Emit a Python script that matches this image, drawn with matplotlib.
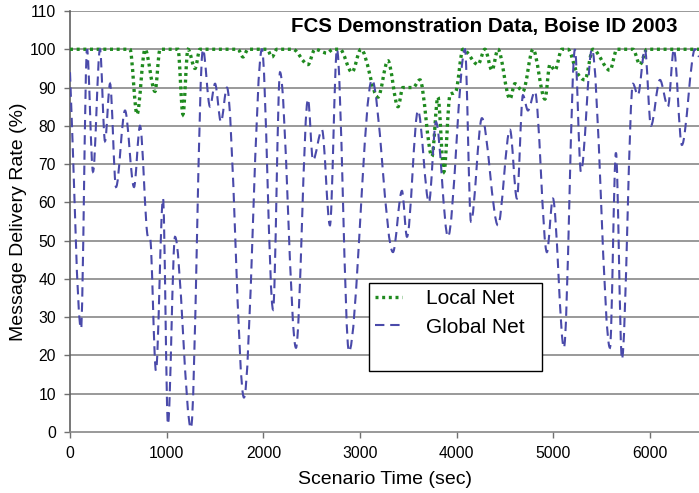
import matplotlib
matplotlib.use('Agg')
import matplotlib.pyplot as plt
from matplotlib.lines import Line2D
from matplotlib.path import Path
from matplotlib.patches import PathPatch

plt.rcParams['font.family'] = ['Liberation Sans', 'DejaVu Sans']

# scenario time (sec) and delivery rate (%)
global_t = [0, 114, 176, 238, 310, 362, 414, 476, 569, 662,
            724, 807, 827, 889, 962, 1013, 1086, 1251, 1375, 1448,
            1500, 1561, 1623, 1799, 1985, 2100, 2172, 2337, 2461, 2513,
            2606, 2688, 2761, 2885, 3123, 3340, 3433, 3485, 3599, 3712,
            3785, 3909, 4085, 4147, 4260, 4426, 4550, 4622, 4684, 4736,
            4808, 4932, 4994, 5108, 5222, 5284, 5398, 5584, 5646, 5708,
            5822, 5873, 5946, 6008, 6101, 6184, 6245, 6328, 6463, 6505]
global_rate = [94, 27, 100, 68, 100, 76, 91, 64, 84, 64,
               80, 51, 51, 16, 61, 2, 51, 1, 100, 85,
               91, 81, 90, 9, 100, 32, 94, 22, 87, 71,
               79, 54, 100, 21, 92, 47, 63, 51, 84, 60,
               81, 51, 100, 55, 82, 54, 79, 61, 88, 84,
               89, 47, 61, 22, 100, 68, 100, 22, 73, 19,
               91, 88, 100, 80, 92, 85, 100, 75, 100, 98]

local_t = [0, 620, 693, 776, 879, 931, 1117, 1168, 1220, 1293,
           1344, 1737, 1789, 1841, 2037, 2089, 2140, 2306, 2461, 2533,
           2657, 2719, 2792, 2916, 3009, 3185, 3288, 3392, 3443, 3547,
           3619, 3743, 3805, 3867, 3929, 3991, 4064, 4219, 4291, 4364,
           4426, 4550, 4601, 4684, 4788, 4912, 4963, 5015, 5087, 5149,
           5242, 5325, 5408, 5584, 5656, 5822, 5894, 5966, 6505]
local_rate = [100, 100, 83, 100, 89, 100, 100, 83, 100, 95,
              100, 100, 98, 100, 100, 98, 100, 100, 96, 100,
              99, 100, 100, 94, 100, 87.5, 97, 85, 90, 90,
              92, 72, 87.5, 68, 88, 89, 100, 96, 100, 94.5,
              100, 87, 91, 89, 100, 87, 96, 94.5, 100, 100,
              94, 92, 100, 94.5, 100, 100, 96, 100, 100]

x_ticks = [0, 1000, 2000, 3000, 4000, 5000, 6000]
y_ticks = list(range(0, 111, 10))

green = '#1f8a1f'
blue = '#4a4aaa'
green_style = (0, (0.9, 1.1))
blue_style = (0, (4.5, 2.8))


def smooth_path(xs, ys):
    # smoothed line drawn as bezier segments through the points (no overshoot)
    n = len(xs)
    d = [(ys[i + 1] - ys[i]) / (xs[i + 1] - xs[i]) for i in range(n - 1)]
    m = [d[0]] + [0.0] * (n - 2) + [d[-1]]
    for i in range(1, n - 1):
        if d[i - 1] * d[i] > 0:
            s = (ys[i + 1] - ys[i - 1]) / (xs[i + 1] - xs[i - 1])
            lim = 3 * min(abs(d[i - 1]), abs(d[i]))
            m[i] = max(-lim, min(lim, s))
    verts = [(xs[0], ys[0])]
    codes = [Path.MOVETO]
    for i in range(n - 1):
        h = (xs[i + 1] - xs[i]) / 3
        verts += [(xs[i] + h, ys[i] + m[i] * h),
                  (xs[i + 1] - h, ys[i + 1] - m[i + 1] * h),
                  (xs[i + 1], ys[i + 1])]
        codes += [Path.CURVE4] * 3
    return Path(verts, codes)


fig = plt.figure(figsize=(6.99, 4.93), dpi=100)
ax = fig.add_axes([70 / 699, 61 / 493, 629 / 699, 421 / 493])

for y in y_ticks[1:]:
    ax.axhline(y, color='#878787', lw=1.2, zorder=1)

ax.add_patch(PathPatch(smooth_path(local_t, local_rate), fill=False, edgecolor=green,
                       lw=2.4, linestyle=green_style, zorder=3))
ax.add_patch(PathPatch(smooth_path(global_t, global_rate), fill=False, edgecolor=blue,
                       lw=1.5, linestyle=blue_style, zorder=4))

ax.set_xlim(0, 6505)
ax.set_ylim(0, 110)
ax.set_xticks(x_ticks)
ax.set_yticks(y_ticks)
ax.tick_params(axis='both', direction='out', length=4, width=1,
               color='#707070', labelsize=11.3, pad=6)

for side in ['top', 'right']:
    ax.spines[side].set_visible(False)
ax.spines['left'].set_color('#606060')
ax.spines['bottom'].set_color('#878787')
ax.spines['left'].set_linewidth(1.2)
ax.spines['bottom'].set_linewidth(1.2)

ax.set_xlabel('Scenario Time (sec)', fontsize=14, labelpad=7)
ax.set_ylabel('Message Delivery Rate (%)', fontsize=14, labelpad=2)

ax.text(0.966, 0.962, 'FCS Demonstration Data, Boise ID 2003', transform=ax.transAxes,
        ha='right', va='center', fontsize=14.8, fontweight='bold')

h_local = Line2D([], [], color=green, lw=2.4, linestyle=green_style)
h_global = Line2D([], [], color=blue, lw=1.5, linestyle=blue_style)
blank = Line2D([], [], color='none')
leg = ax.legend([h_local, h_global, blank], ['Local Net', 'Global Net', ' '],
                loc='upper left', bbox_to_anchor=(0.4754, 0.1401, 0.275, 0.2138),
                mode='expand', borderaxespad=0, fontsize=15, frameon=True,
                fancybox=False, edgecolor='black', framealpha=1,
                handlelength=1.3, handletextpad=1.15, labelspacing=0.45,
                borderpad=0.3)
leg.get_frame().set_linewidth(1.0)

fig.savefig('out.png', dpi=100)
